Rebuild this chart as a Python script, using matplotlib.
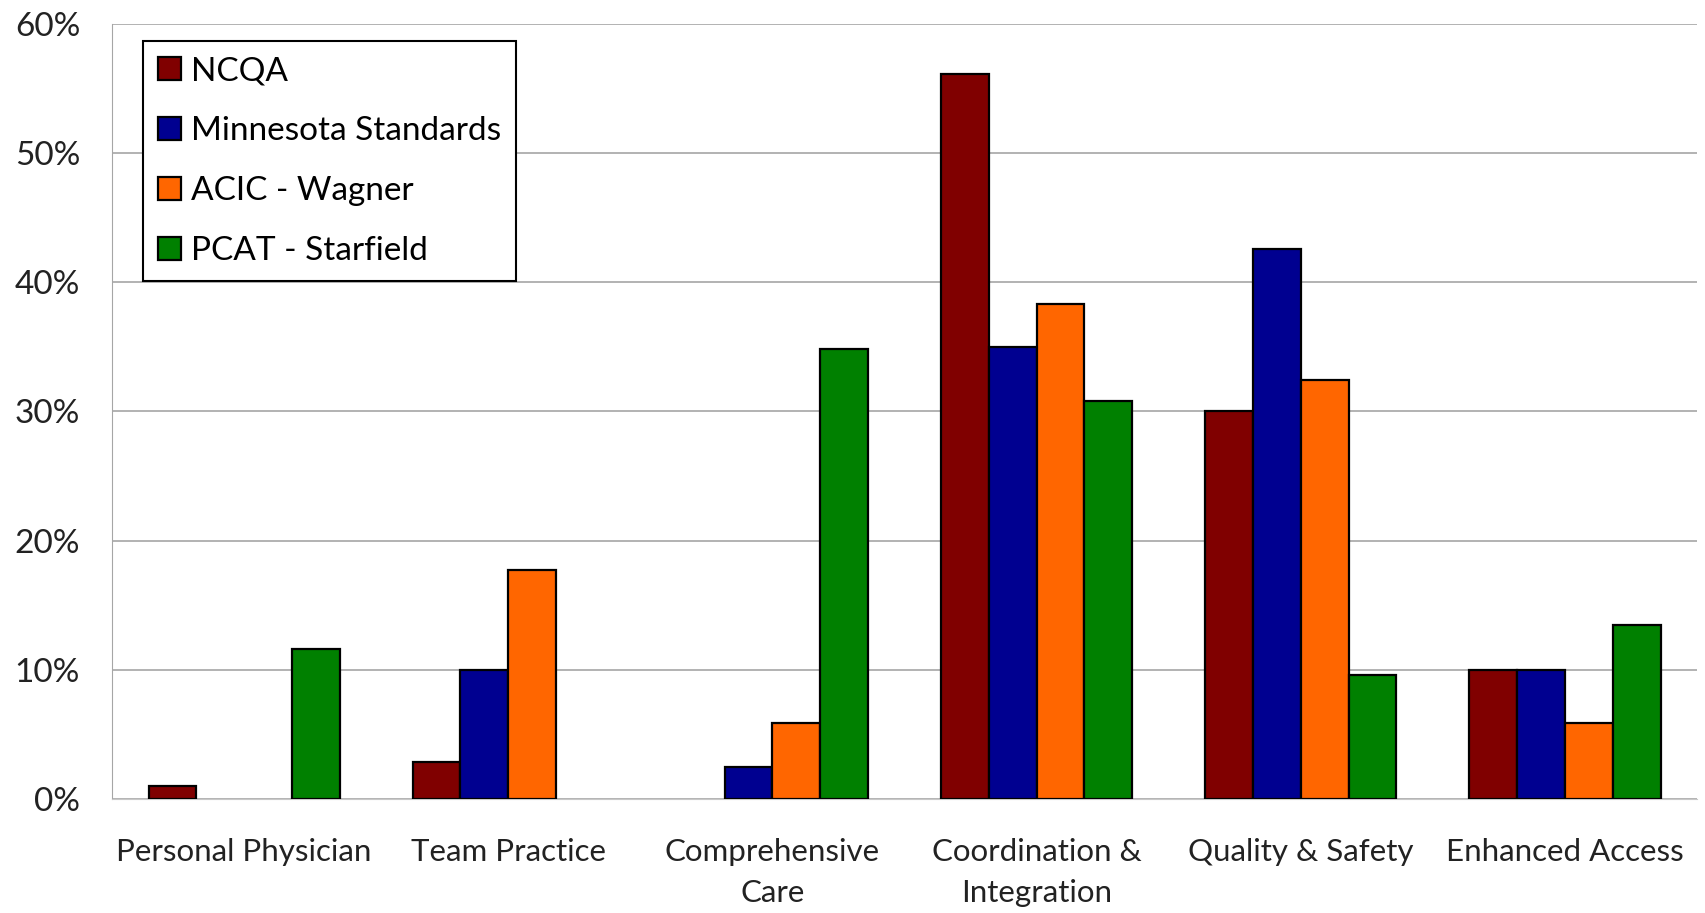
import numpy as np
import matplotlib
matplotlib.use("Agg")
import matplotlib.pyplot as plt
from matplotlib.ticker import PercentFormatter

plt.rcParams['font.family'] = ['Lato', 'DejaVu Sans']

# ====== DATA ======
categories = ["Personal Physician", "Team Practice", "Comprehensive\nCare",
              "Coordination &\nIntegration", "Quality & Safety", "Enhanced Access"]
series_names = ["NCQA", "Minnesota Standards", "ACIC - Wagner", "PCAT - Starfield"]
ncqa = [1.0, 2.9, 0.0, 56.1, 30.0, 10.0]
minnesota = [0.0, 10.0, 2.5, 35.0, 42.6, 10.0]
acic = [0.0, 17.7, 5.9, 38.3, 32.4, 5.9]
pcat = [11.6, 0.0, 34.8, 30.8, 9.6, 13.5]
colors = ["#800000", "#000090", "#FF6600", "#008000"]

# ====== PLOT ======
fig = plt.figure(figsize=(17.06, 9.13), dpi=100)
ax = fig.add_axes([0.0657, 0.1249, 0.929, 0.8488])

x = np.arange(len(categories))
width = 0.181
all_series = [ncqa, minnesota, acic, pcat]
for i, (vals, name, col) in enumerate(zip(all_series, series_names, colors)):
    offs = (i - 1.5) * width
    vals = np.array(vals)
    mask = vals > 0
    ax.bar(x[mask] + offs, vals[mask], width, color=col, edgecolor="black",
           linewidth=1.6, label=name, zorder=3)

ax.set_xlim(-0.5, len(categories) - 0.5)
ax.set_ylim(0, 60)
ax.set_yticks(np.arange(0, 61, 10))
ax.yaxis.set_major_formatter(PercentFormatter(decimals=0))
ax.set_xticks(x)
ax.set_xticklabels(categories, linespacing=1.55)
ax.tick_params(axis="y", length=0, labelsize=24, colors="#222222", pad=23)
ax.tick_params(axis="x", length=0, labelsize=22.5, colors="#222222", pad=28)
ax.grid(axis="y", color="#a6a6a6", linewidth=1.2, zorder=0)

for side in ["top", "right"]:
    ax.spines[side].set_visible(False)
ax.spines["left"].set_color("#a6a6a6")
ax.spines["bottom"].set_color("#c8c8c8")

leg = ax.legend(loc="upper left", bbox_to_anchor=(0.0192, 0.978), fontsize=24,
                frameon=True, fancybox=False, handlelength=0.7, handleheight=0.7,
                handletextpad=0.3, labelspacing=0.9, borderpad=0.45, borderaxespad=0)
leg.get_frame().set_edgecolor("black")
leg.get_frame().set_linewidth(1.5)
leg.get_frame().set_alpha(1)

plt.savefig("out.png", dpi=100)
